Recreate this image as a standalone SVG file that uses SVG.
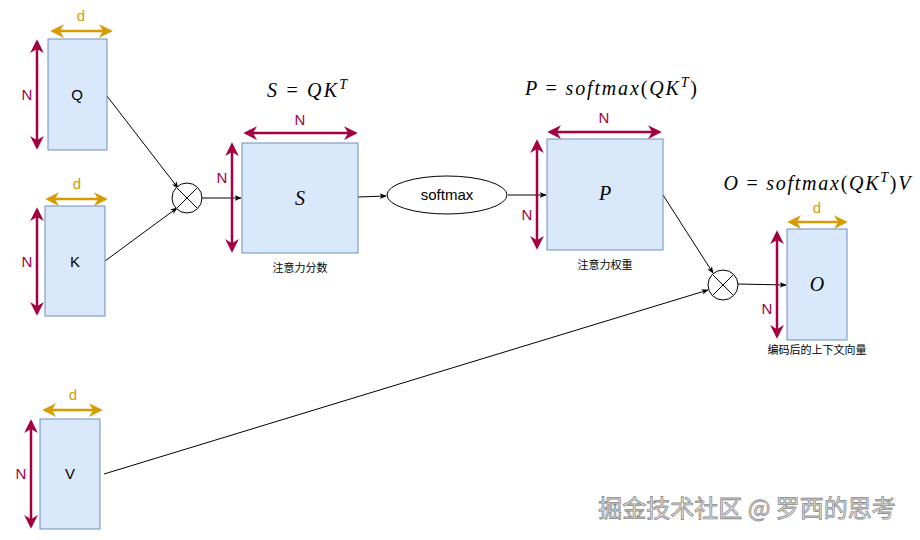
<svg xmlns="http://www.w3.org/2000/svg" width="920" height="540" viewBox="0 0 920 540">
<defs>
<marker id="blk" viewBox="0 0 10 10" refX="9" refY="5" markerWidth="7" markerHeight="7" markerUnits="userSpaceOnUse" orient="auto"><path d="M0,1 L10,5 L0,9 L2.5,5 Z" fill="#000"/></marker>
<marker id="red" viewBox="0 0 10 10" refX="8" refY="5" markerWidth="5.5" markerHeight="5.5" orient="auto-start-reverse"><path d="M0,0 L10,5 L0,10 L3,5 Z" fill="#a50040"/></marker>
<marker id="gold" viewBox="0 0 10 10" refX="8" refY="5" markerWidth="5.5" markerHeight="5.5" orient="auto-start-reverse"><path d="M0,0 L10,5 L0,10 L3,5 Z" fill="#d79b00"/></marker>
</defs>
<style>
.box{fill:#dae8fc;stroke:#6c8ebf;stroke-width:1}
.lbl{font-family:"Liberation Sans",Arial,sans-serif;font-size:15px;fill:#000;text-anchor:middle}
.math{font-family:"Liberation Serif","Times New Roman",serif;font-style:italic;font-size:20px;fill:#000;text-anchor:middle}
.up{font-style:normal}
.dimN{stroke:#a50040;stroke-width:2.5;fill:none;marker-start:url(#red);marker-end:url(#red)}
.dimd{stroke:#d79b00;stroke-width:2.5;fill:none;marker-start:url(#gold);marker-end:url(#gold)}
.tN{font-family:"Liberation Sans",Arial,sans-serif;font-size:15px;fill:#a50040;text-anchor:middle}
.td{font-family:"Liberation Sans",Arial,sans-serif;font-size:15px;fill:#d79b00;text-anchor:middle}
.cap{font-family:"Liberation Sans","Noto Sans CJK SC",sans-serif;font-size:11px;fill:#000;text-anchor:middle}
.edge{stroke:#000;stroke-width:1;fill:none;marker-end:url(#blk)}
.op{fill:#fff;stroke:#000;stroke-width:1}
</style>
<rect width="920" height="540" fill="#fff"/>

<g id="edges">
<line class="edge" x1="107" y1="96" x2="178" y2="188"/>
<line class="edge" x1="105" y1="261" x2="177" y2="208"/>
<line class="edge" x1="202" y1="198" x2="241" y2="198"/>
<line class="edge" x1="358" y1="197" x2="386" y2="196"/>
<line class="edge" x1="508" y1="195" x2="546" y2="195"/>
<line class="edge" x1="663" y1="195" x2="713" y2="273"/>
<line class="edge" x1="104" y1="474" x2="708" y2="290"/>
<line class="edge" x1="738" y1="284" x2="786" y2="285"/>
</g>

<g id="Q">
<rect class="box" x="48" y="39" width="59" height="111"/>
<text class="lbl" x="77" y="100">Q</text>
<line class="dimd" x1="53" y1="31" x2="110" y2="31"/>
<text class="td" x="81" y="21">d</text>
<line class="dimN" x1="37" y1="42" x2="37" y2="147"/>
<text class="tN" x="27" y="100">N</text>
</g>

<g id="K">
<rect class="box" x="45" y="206" width="60" height="110"/>
<text class="lbl" x="75" y="267">K</text>
<line class="dimd" x1="48" y1="199" x2="105" y2="199"/>
<text class="td" x="77" y="189">d</text>
<line class="dimN" x1="37" y1="210" x2="37" y2="313"/>
<text class="tN" x="27" y="267">N</text>
</g>

<g id="mul1">
<circle class="op" cx="187" cy="198" r="15"/>
<path d="M177,188 L197,208 M197,188 L177,208" stroke="#000" stroke-width="1"/>
</g>

<g id="S">
<rect class="box" x="242" y="143" width="116" height="110"/>
<text class="math" x="300" y="205">S</text>
<line class="dimN" x1="246" y1="133" x2="355" y2="133"/>
<text class="tN" x="300" y="125">N</text>
<line class="dimN" x1="232" y1="145" x2="232" y2="250"/>
<text class="tN" x="222" y="183">N</text>
<text class="cap" x="300" y="272">注意力分数</text>
<text class="math" x="307" y="97" textLength="80" lengthAdjust="spacing">S <tspan class="up">=</tspan> QK<tspan font-size="14" dy="-8">T</tspan></text>
</g>

<g id="softmax">
<ellipse cx="447" cy="195" rx="60" ry="19" fill="#fff" stroke="#000" stroke-width="1"/>
<text class="lbl" x="447" y="200" font-size="15">softmax</text>
</g>

<g id="P">
<rect class="box" x="547" y="139" width="116" height="111"/>
<text class="math" x="605" y="200">P</text>
<line class="dimN" x1="550" y1="132" x2="659" y2="132"/>
<text class="tN" x="604" y="123">N</text>
<line class="dimN" x1="537" y1="142" x2="537" y2="247"/>
<text class="tN" x="527" y="220">N</text>
<text class="cap" x="605" y="269">注意力权重</text>
<text class="math" x="611" y="95" textLength="172" lengthAdjust="spacing">P <tspan class="up">=</tspan> softmax<tspan class="up">(</tspan>QK<tspan font-size="14" dy="-8">T</tspan><tspan class="up" dy="8">)</tspan></text>
</g>

<g id="mul2">
<circle class="op" cx="723" cy="285" r="15"/>
<path d="M713,275 L733,295 M733,275 L713,295" stroke="#000" stroke-width="1"/>
</g>

<g id="O">
<rect class="box" x="787" y="229" width="60" height="111"/>
<text class="math" x="817" y="291">O</text>
<line class="dimd" x1="790" y1="222" x2="845" y2="222"/>
<text class="td" x="817" y="213">d</text>
<line class="dimN" x1="777" y1="233" x2="777" y2="336"/>
<text class="tN" x="767" y="314">N</text>
<text class="cap" x="817" y="354">编码后的上下文向量</text>
<text class="math" x="817" y="190" textLength="187" lengthAdjust="spacing">O <tspan class="up">=</tspan> softmax<tspan class="up">(</tspan>QK<tspan font-size="14" dy="-8">T</tspan><tspan class="up" dy="8">)</tspan>V</text>
</g>

<g id="V">
<rect class="box" x="40" y="419" width="60" height="110"/>
<text class="lbl" x="70" y="479">V</text>
<line class="dimd" x1="45" y1="410" x2="100" y2="410"/>
<text class="td" x="73" y="400">d</text>
<line class="dimN" x1="31" y1="422" x2="31" y2="526"/>
<text class="tN" x="21" y="479">N</text>
</g>

<text x="747" y="517" font-family="'Noto Sans CJK SC',sans-serif" font-size="24" fill="#ececec" stroke="#8a8a8a" stroke-width="0.8" text-anchor="middle">掘金技术社区 @ 罗西的思考</text>
</svg>
